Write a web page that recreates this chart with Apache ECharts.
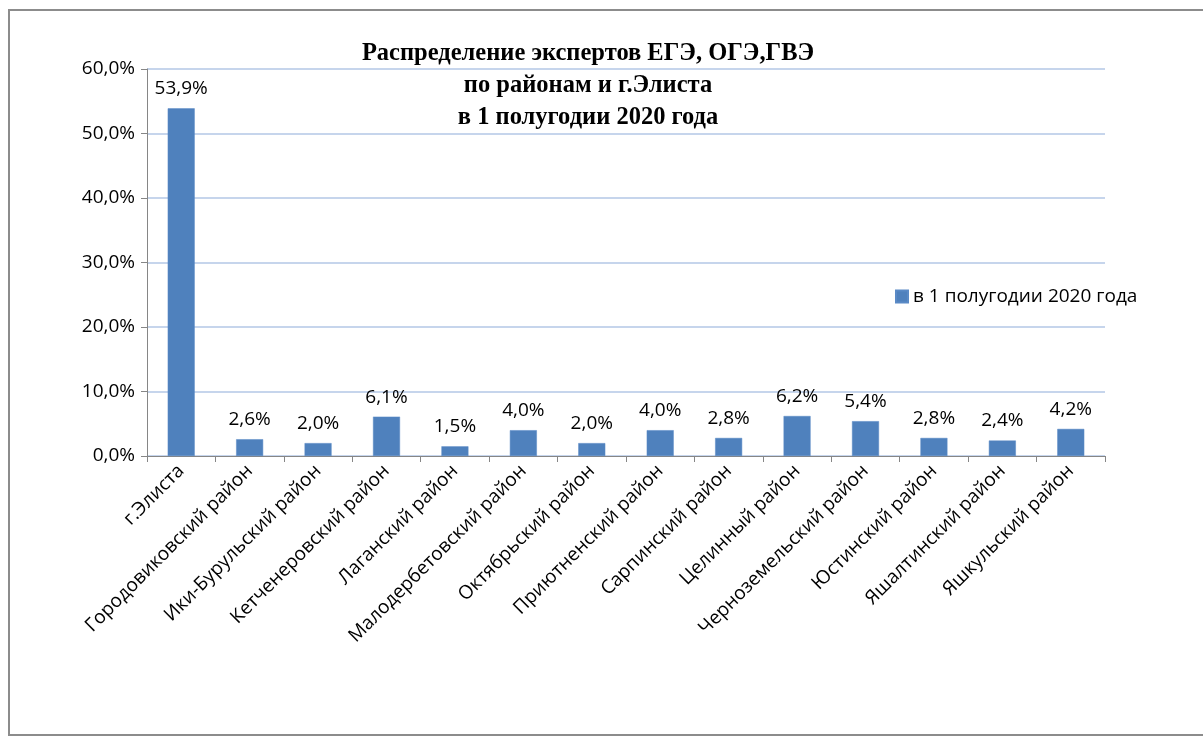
<!DOCTYPE html>
<html>
<head>
<meta charset="utf-8">
<script src="https://cdn.jsdelivr.net/npm/echarts@6/dist/echarts.min.js"></script>
<style>
  html, body { margin: 0; padding: 0; background: #fff; }
  #chart { width: 1203px; height: 738px; }
</style>
</head>
<body>
<div id="chart"></div>
<script>
const categories = [
  "г.Элиста", "Городовиковский район", "Ики-Бурульский район", "Кетченеровский район",
  "Лаганский район", "Малодербетовский район", "Октябрьский район", "Приютненский район",
  "Сарпинский район", "Целинный район", "Черноземельский район", "Юстинский район",
  "Яшалтинский район", "Яшкульский район"
];
const values = [53.9, 2.6, 2.0, 6.1, 1.5, 4.0, 2.0, 4.0, 2.8, 6.2, 5.4, 2.8, 2.4, 4.2];
const seriesName = "в 1 полугодии 2020 года";
const titleLines = ["Распределение экспертов ЕГЭ, ОГЭ,ГВЭ", "по районам и г.Элиста", "в 1 полугодии 2020 года"];

const fmt = (v) => v.toFixed(1).replace(".", ",") + "%";
const textFont = "Open Sans";

const chart = echarts.init(document.getElementById("chart"));

const option = {
  backgroundColor: "#fff",
  animation: false,
  title: {
    text: titleLines.join("\n"),
    left: 583,
    textAlign: "center",
    top: 33,
    textStyle: {
      fontFamily: "Liberation Serif",
      fontWeight: "bold",
      fontSize: 24.5,
      lineHeight: 32,
      color: "#000",
    },
  },
  legend: {
    left: 890,
    top: 282,
    icon: "rect",
    itemWidth: 12,
    itemHeight: 12,
    itemGap: 6,
    textStyle: { fontFamily: textFont, fontSize: 19, color: "#000" },
    data: [seriesName],
  },
  graphic: [
    {
      type: "rect",
      shape: { x: 9, y: 10, width: 1220, height: 725 },
      style: { fill: "none", stroke: "#8c8c8c", lineWidth: 2 },
      silent: true,
    },
  ],
  grid: { left: 147, right: 98, top: 69, bottom: 282 },
  xAxis: {
    type: "category",
    data: categories,
    axisLine: { lineStyle: { color: "#868686" } },
    axisTick: { show: true, length: 6, lineStyle: { color: "#868686" } },
    axisLabel: {
      rotate: 45,
      margin: 12,
      interval: 0,
      fontFamily: textFont,
      fontSize: 19,
      color: "#000",
    },
  },
  yAxis: {
    type: "value",
    min: 0,
    max: 60,
    interval: 10,
    axisLine: { show: true, lineStyle: { color: "#868686" } },
    axisTick: { show: true, length: 6, lineStyle: { color: "#868686" } },
    axisLabel: {
      formatter: fmt,
      margin: 12,
      fontFamily: textFont,
      fontSize: 19,
      color: "#000",
    },
    splitLine: { lineStyle: { color: "#b3c7e6", width: 1.5 } },
  },
  series: [
    {
      name: seriesName,
      type: "bar",
      data: values,
      barWidth: 27,
      itemStyle: { color: "#4f81bd", borderColor: "#5a8ac6", borderWidth: 0.5 },
      label: {
        show: true,
        position: "top",
        distance: 10,
        formatter: (p) => fmt(p.value),
        fontFamily: textFont,
        fontSize: 19,
        color: "#000",
      },
    },
  ],
};

chart.setOption(option);
window.addEventListener("resize", () => chart.resize());
</script>
</body>
</html>
